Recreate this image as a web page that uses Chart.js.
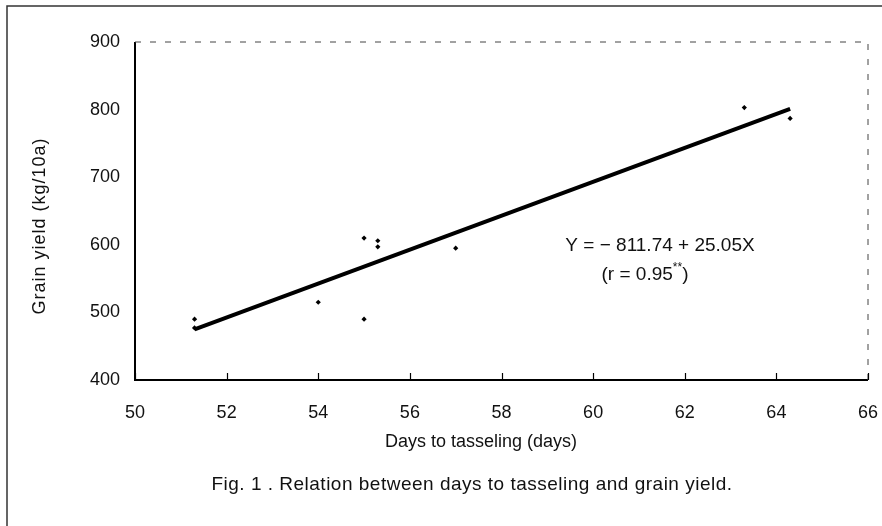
<!DOCTYPE html>
<html lang="en">
<head>
    <meta charset="UTF-8">
    <title>Grain yield vs days to tasseling</title>
    <script src="https://cdn.jsdelivr.net/npm/chart.js"></script>
    <style>
        body {
            margin: 0;
            background-color: #ffffff;
        }
        .wrap {
            width: 882px;
            height: 526px;
            position: relative;
        }
    </style>
</head>
<body>

<div class="wrap">
    <canvas id="yieldChart" width="882" height="526"></canvas>
</div>

<script>
    // Observed points
    const daysToTasseling = [51.3, 51.3, 54.0, 55.0, 55.0, 55.3, 55.3, 57.0, 63.3, 64.3];
    const grainYield      = [490, 477, 515, 610, 490, 606, 597, 595, 803, 787];

    // Regression line end points (Y = -811.74 + 25.05X)
    const fitDays  = [51.3, 64.3];
    const fitYield = [475, 801];

    const xTicks = [50, 52, 54, 56, 58, 60, 62, 64, 66];
    const yTicks = [400, 500, 600, 700, 800, 900];

    const equationText = 'Y = \u2212 811.74 + 25.05X';
    const xTitle = 'Days to tasseling (days)';
    const yTitle = 'Grain yield (kg/10a)';
    const caption = 'Fig. 1 . Relation between days to tasseling and grain yield.';

    const FONT = '"Liberation Sans", Arial, sans-serif';

    // frame, plot borders, inward x ticks and the free text
    const decorations = {
        id: 'decorations',
        beforeDraw(chart) {
            const c = chart.ctx;
            c.save();
            c.strokeStyle = '#333';
            c.lineWidth = 1.5;
            c.beginPath();
            c.moveTo(7, 526);
            c.lineTo(7, 6);
            c.lineTo(882, 6);
            c.stroke();
            c.restore();
        },
        afterDraw(chart) {
            const c = chart.ctx;
            const a = chart.chartArea;
            const xs = chart.scales.x;
            c.save();

            // solid left and bottom axes
            c.strokeStyle = '#000';
            c.lineWidth = 2;
            c.beginPath();
            c.moveTo(a.left, a.top);
            c.lineTo(a.left, a.bottom);
            c.lineTo(a.right, a.bottom);
            c.stroke();

            // broken top and right borders
            c.strokeStyle = '#444';
            c.lineWidth = 1;
            c.setLineDash([6, 9]);
            c.beginPath();
            c.moveTo(a.left, a.top);
            c.lineTo(a.right, a.top);
            c.lineTo(a.right, a.bottom);
            c.stroke();
            c.setLineDash([]);

            // short inward ticks on the x axis
            c.strokeStyle = '#000';
            c.lineWidth = 1.2;
            xTicks.forEach(v => {
                const px = Math.round(xs.getPixelForValue(v)) + 0.5;
                c.beginPath();
                c.moveTo(px, a.bottom);
                c.lineTo(px, a.bottom - 7);
                c.stroke();
            });

            c.fillStyle = '#111';
            c.textAlign = 'center';
            c.textBaseline = 'middle';

            c.font = '18px ' + FONT;
            c.fillText(xTitle, 481, 442);

            c.font = '19px ' + FONT;
            c.letterSpacing = '0.5px';
            c.fillText(caption, 472, 485);
            c.letterSpacing = '0px';

            c.font = '19px ' + FONT;
            c.fillText(equationText, 660, 246);

            // (r = 0.95**) with raised asterisks
            const p1 = '(r = 0.95', p2 = '**', p3 = ')';
            c.font = '19px ' + FONT;
            const w1 = c.measureText(p1).width, w3 = c.measureText(p3).width;
            c.font = '12px ' + FONT;
            const w2 = c.measureText(p2).width;
            let sx = 645 - (w1 + w2 + w3) / 2;
            c.textAlign = 'left';
            c.font = '19px ' + FONT;
            c.fillText(p1, sx, 275);
            c.font = '12px ' + FONT;
            c.fillText(p2, sx + w1, 268);
            c.font = '19px ' + FONT;
            c.fillText(p3, sx + w1 + w2, 275);

            // rotated y title
            c.translate(40, 226);
            c.rotate(-Math.PI / 2);
            c.textAlign = 'center';
            c.font = '18px ' + FONT;
            c.letterSpacing = '1px';
            c.fillText(yTitle, 0, 0);

            c.restore();
        }
    };

    const ctx = document.getElementById('yieldChart').getContext('2d');
    new Chart(ctx, {
        type: 'scatter',
        data: {
            datasets: [
                {
                    label: 'Observed',
                    data: daysToTasseling.map((d, i) => ({ x: d, y: grainYield[i] })),
                    pointStyle: 'rectRot',
                    pointRadius: 2.6,
                    backgroundColor: '#000',
                    borderColor: '#000',
                    borderWidth: 0
                },
                {
                    label: 'Regression',
                    type: 'line',
                    data: fitDays.map((d, i) => ({ x: d, y: fitYield[i] })),
                    borderColor: '#000',
                    borderWidth: 4,
                    pointRadius: 0,
                    fill: false
                }
            ]
        },
        options: {
            responsive: false,
            animation: false,
            layout: {
                padding: { left: 0, top: 42, right: 14, bottom: 0 }
            },
            plugins: {
                legend: { display: false },
                tooltip: { enabled: false }
            },
            scales: {
                x: {
                    type: 'linear',
                    min: 50,
                    max: 66,
                    afterBuildTicks: s => { s.ticks = xTicks.map(v => ({ value: v })); },
                    afterFit: s => { s.height = 146; s.paddingLeft = 0; s.paddingRight = 0; },
                    grid: { display: false, drawTicks: false },
                    border: { display: false },
                    ticks: {
                        padding: 22,
                        color: '#111',
                        font: { family: FONT, size: 18 }
                    }
                },
                y: {
                    min: 400,
                    max: 900,
                    afterBuildTicks: s => { s.ticks = yTicks.map(v => ({ value: v })); },
                    afterFit: s => { s.width = 135; s.paddingTop = 0; s.paddingBottom = 0; },
                    grid: { display: false, drawTicks: false },
                    border: { display: false },
                    ticks: {
                        padding: 15,
                        color: '#111',
                        font: { family: FONT, size: 18 }
                    }
                }
            }
        },
        plugins: [decorations]
    });
</script>

</body>
</html>
